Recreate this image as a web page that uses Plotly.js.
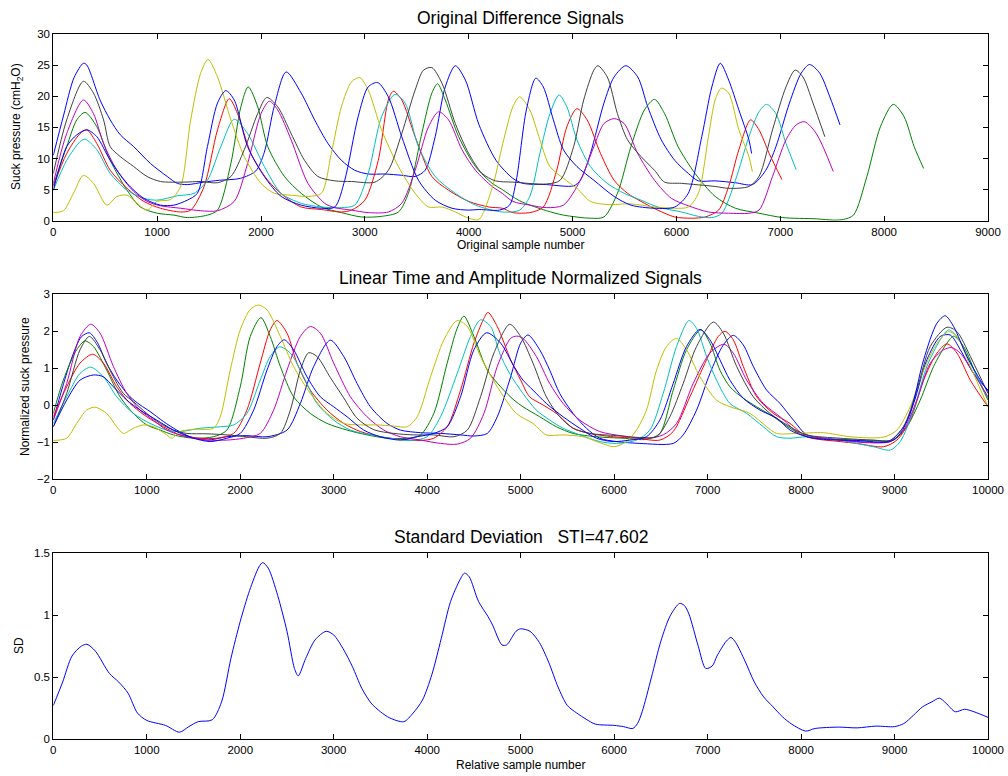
<!DOCTYPE html>
<html>
<head>
<meta charset="utf-8">
<script src="https://cdn.plot.ly/plotly-3.0.1.min.js"></script>
<style>html,body{margin:0;padding:0;background:#fff;}#chart{width:1008px;height:776px;}</style>
</head>
<body>
<div id="chart"></div>
<script>
// ---------- Panel 1: original difference signals (x = original sample number, y = cmH2O) ----------
const topA_x = [0,100,200,290,323,450,548,645,774,935,1097,1194,1290,1450,1600,1800,1950,2032,2129,2242,2387,2516,2645,2774,2903,3032,3194,3355,3484,3580,3677,3774,3871,3968,4097,4263,4425,4523,4750,5010,5075,5172,5302,5400,5513,5627,5724,5854,5984,6114,6211,6373,6568,6731,6860,6958,7088,7201,7282,7380,7477,7575];
const topA_y = [10.5,17,23,25.3,25,19.4,16.2,13.8,11.9,9.2,7.1,6.0,5.8,6.2,6.5,6.8,8,11,18.5,23.9,20.5,16.2,12.4,9.7,8.1,7.5,7.5,7.3,7.1,8.1,13.5,21.5,24.9,22.6,15.5,9.7,6.8,6.0,5.8,5.6,6.5,10.8,18.9,23.1,24.9,23.1,18.3,13,9.7,7.6,6.4,6.4,6.1,5.8,8.1,11.9,18.9,23.7,25.1,23.7,19.9,15.4];

const topD_x = [0,129,226,306,419,548,710,839,1000,1161,1290,1484,1581,1710,1806,1877,1968,2065,2226,2387,2581,2774,2968,3161,3323,3419,3548,3645,3700,3774,3903,4065,4226,4323,4490,4750,4912,5172,5302,5432,5562,5692,5789,5886,6016,6179,6373,6568,6795,7023,7347,7510,7607,7705,7834,7964,8088,8192,8289,8380];
const topD_y = [5.7,11.9,16.2,17.4,15.1,9.7,4.9,2.2,1.2,0.9,0.5,0.9,1.7,9.2,18.3,21.5,18.3,11.9,7.1,4.4,2.2,1.3,0.6,0.7,1.4,4.4,14,20.5,22,19.4,13.5,8.7,6.0,5.0,3.2,1.6,0.9,0.4,0.6,4.4,11.9,17.8,19.5,17.2,11.9,7.6,3.9,2.0,1.2,0.5,0.3,0.1,0.2,0.9,7.1,15.1,18.7,16.7,11.9,8.4];

const topE_x = [0,129,258,323,419,548,710,871,1032,1226,1323,1452,1581,1694,1774,1903,2065,2226,2387,2581,2774,2871,3000,3129,3226,3274,3355,3484,3645,3806,4000,4194,4323,4425,4588,4718,4847,4945,5042,5140,5269,5400,5529,5659,5821,5984,6146,6276,6406,6503,6601,6714,6795,6893,7016];
const topE_y = [5.5,10.8,14,14.6,12.4,8.1,5.2,3.1,2.0,1.4,1.7,5.5,14.6,19.6,17.2,10.8,6.5,3.9,2.2,1.8,1.4,1.7,3.3,9.7,19.4,20.8,19.4,13.5,7.1,4.9,3.1,2.2,2.0,1.3,1.3,2.2,8.1,15.1,18,16.2,10.8,6.5,4.4,3.1,1.7,0.6,0.4,0.6,1.7,5.5,11.4,16.2,14.6,10.8,6.6];

const topF_x = [0,129,258,306,419,548,710,871,1000,1194,1355,1484,1613,1742,1871,2032,2194,2387,2581,2774,2903,3032,3161,3290,3387,3516,3677,3871,4065,4323,4490,4588,4685,4782,4870,4945,5042,5172,5334,5497,5659,5821,6049,6211,6341,6438,6568,6698,6795,6867,6958,7055,7153];
const topF_y = [4.9,9.7,12.7,13.1,11.4,7.6,4.9,3.6,3.3,4.0,4.4,6.5,11.9,16.3,14,8.7,4.4,2.8,2.2,2.1,2.5,7.6,16.7,20.3,18.9,11.9,7.1,4.4,2.5,1.4,1.7,3.9,10.8,17.2,20.2,18.3,13,8.7,6.0,4.4,3.3,2.2,1.4,0.7,0.5,1.2,6.5,13.5,17.5,18.7,17.2,12.4,8.2];

const topC_x = [0,129,290,387,484,613,774,903,1032,1226,1419,1581,1742,1871,2000,2081,2161,2290,2452,2613,2710,2871,3032,3226,3355,3484,3613,3710,3806,3935,4065,4226,4323,4425,4588,4750,4912,5075,5205,5302,5400,5497,5627,5789,5951,6114,6308,6503,6698,6795,6925,7055,7153,7234,7347,7510];
const topC_y = [6.0,14,19.4,17.2,12.4,8.1,4.7,3.1,2.4,2.0,1.6,1.6,3.1,9.2,17.2,19.2,17.8,13,6.0,2.8,2.1,1.7,1.3,1.4,2.8,8.1,15.1,17.5,16.2,11.4,8.1,5.5,4.4,3.1,2.5,2.1,2.5,6.5,11.9,15.6,16.4,15.6,10.8,6.5,3.6,2.4,1.4,1.2,1.2,1.7,7.1,13,15.4,15.9,14,7.9];

const topH_x = [0,97,194,290,387,516,613,710,806,903,1000,1129,1226,1323,1419,1490,1581,1710,1839,2000,2129,2290,2452,2581,2677,2774,2871,2952,3032,3161,3323,3484,3613,3742,3871,4000,4097,4230,4328,4425,4490,4588,4685,4782,4912,5042,5172,5334,5562,5789,5984,6114,6211,6308,6373,6432,6503,6601,6698,6731];
const topH_y = [1.3,1.6,4.4,7.3,6.0,2.5,3.9,4.1,2.8,1.7,3.1,3.4,5.5,16.2,23.7,25.9,23.1,16.2,10.3,6.0,4.4,4.1,3.9,4.4,10.8,18.3,22.3,23,21,14.6,8.7,4.4,2.2,2.2,1.4,0.4,0.2,5.5,12.4,18.3,19.9,17.8,13,8.7,6.8,5.2,3.1,2.6,2.7,2.2,2.0,2.2,4.4,13.5,19.4,21.3,20.5,14.6,10.3,7.9];

const topB_x = [0,129,290,387,484,548,645,774,903,1032,1258,1419,1581,1710,1839,1968,2055,2161,2290,2419,2548,2710,2871,3097,3226,3355,3484,3565,3645,3742,3871,4000,4129,4258,4425,4750,4880,5010,5107,5205,5244,5334,5432,5529,5659,5789,5886,6049,6373,6503,6698,6795,6925,7055,7143,7218,7315,7429];
const topB_y = [7.6,16.2,22.4,20.5,16.2,11.9,10.3,8.7,7.1,6.3,6.2,6.3,6.1,7.1,11.4,17.2,19.8,18.3,14,9.7,7.1,6.4,6.3,6.2,8.1,14,21,24.2,24.6,22.1,15.6,10.8,7.6,6.4,6.2,5.9,6.5,11.9,19.4,24.2,24.9,23.1,17.2,13,10.3,8.1,6.2,6.0,5.5,5.2,5.5,7.1,14.6,21.5,24.2,23.1,18.9,13.5];

const topG_x = [0,129,226,323,419,548,710,871,1032,1161,1290,1387,1484,1581,1661,1742,1871,2032,2194,2387,2581,2710,2806,2935,3032,3123,3226,3355,3516,3677,3839,4000,4101,4295,4393,4458,4555,4646,4718,4815,4912,5042,5205,5400,5562,5789,5984,6114,6244,6341,6422,6503,6601,6698,6724];
const topG_y = [4.9,11.9,13.8,14.6,13.5,9.7,6.0,3.6,2.5,2.5,3.3,4.4,11.9,18.9,20.9,19.4,11.9,7.1,3.9,2.5,2.0,2.2,6.5,16.7,21.5,22.2,19.9,13.5,6.5,3.3,2.0,1.7,1.8,1.7,2.5,6.5,17.8,22.9,21.5,16.2,11.4,8.7,6.5,3.9,2.5,2.0,2.2,4.4,13.5,21.5,25.3,22.6,17.8,13,10.8];

// ---------- Panel 2: linear time and amplitude normalized signals (x = relative sample number) ----------
const midA_x = [0,100,200,300,386,471,571,679,821,929,1036,1179,1321,1464,1643,1857,2071,2286,2500,2643,2786,2964,3107,3250,3393,3571,3714,3929,4143,4357,4500,4643,4750,4893,5000,5079,5204,5311,5418,5561,5704,5846,6025,6275,6632,6739,6882,7025,7168,7275,7382,7489,7632,7775,7918,8061,8239,8418,8596,8775,8954,9096,9204,9346,9489,9596,9704,9846,10000];
const midA_y = [-0.4,0.5,1.3,1.85,1.96,1.7,1.13,0.68,0.23,0.01,-0.17,-0.44,-0.67,-0.85,-0.94,-0.85,-0.82,-0.85,-0.67,0.05,1.05,1.76,1.32,0.59,-0.04,-0.49,-0.67,-0.74,-0.76,-0.8,-0.83,-0.76,-0.31,0.77,1.68,1.9,1.5,0.95,0.32,-0.22,-0.62,-0.89,-0.98,-1.03,-1.03,-0.8,-0.13,0.86,1.63,1.89,1.63,1.05,0.41,0.05,-0.4,-0.8,-0.89,-0.94,-0.98,-1.0,-0.95,-0.58,0.05,1.23,1.86,1.9,1.5,0.86,0.41];

const midD_x = [0,107,250,339,429,571,714,857,1000,1143,1286,1500,1714,1857,2000,2107,2221,2321,2429,2571,2750,2929,3143,3357,3571,3786,3929,4071,4214,4321,4393,4500,4643,4786,4929,5025,5204,5382,5561,5811,6096,6346,6489,6632,6775,6929,7025,7132,7239,7382,7525,7704,7882,8061,8418,8775,8989,9132,9275,9418,9561,9632,9739,9882,10000];
const midD_y = [-0.22,0.68,1.5,1.74,1.59,0.95,0.23,-0.22,-0.53,-0.67,-0.8,-0.89,-0.85,-0.67,0.5,1.86,2.37,1.86,1.05,0.23,-0.22,-0.49,-0.67,-0.8,-0.89,-0.89,-0.8,-0.22,1.14,2.08,2.41,1.86,0.95,0.5,0.14,-0.04,-0.31,-0.58,-0.76,-0.85,-0.89,-0.92,-0.76,0.41,1.5,2.04,1.68,0.95,0.5,0.19,-0.04,-0.31,-0.62,-0.85,-0.92,-0.95,-0.94,-0.58,0.14,1.05,1.68,1.87,1.59,0.77,0.14];

const midE_x = [0,143,286,421,536,679,821,1000,1179,1357,1571,1750,1929,2071,2214,2321,2393,2500,2607,2750,2929,3107,3286,3500,3714,3929,4071,4214,4357,4500,4600,4650,4750,4893,5000,5096,5239,5382,5561,5739,5989,6239,6489,6632,6811,6989,7114,7186,7275,7382,7525,7704,7882,8061,8418,8596,8882,9025,9168,9311,9454,9561,9668,9811,10000];
const midE_y = [-0.31,0.5,1.14,1.38,1.14,0.5,0.05,-0.31,-0.58,-0.8,-0.89,-0.89,-0.76,-0.13,1.14,2.04,2.29,1.95,1.14,0.41,-0.13,-0.49,-0.71,-0.85,-0.92,-0.95,-0.89,-0.58,0.41,1.68,2.31,2.51,2.13,1.23,0.68,0.23,0.01,-0.22,-0.62,-0.76,-0.85,-0.89,-0.94,-0.71,0.23,1.23,1.86,2.0,1.77,1.05,0.23,-0.22,-0.49,-0.85,-0.98,-1.03,-1.12,-0.94,-0.4,0.68,1.41,1.66,1.41,0.68,-0.04];

const midF_x = [0,143,286,400,536,679,857,1036,1214,1357,1571,1786,1929,2071,2214,2321,2421,2536,2679,2821,3000,3179,3393,3607,3821,4000,4143,4321,4464,4571,4679,4775,4882,5025,5168,5311,5454,5632,5846,6025,6239,6382,6525,6668,6800,6882,6989,7096,7239,7418,7596,7739,7882,8061,8418,8775,8954,9061,9204,9346,9489,9579,9668,9811,10000];
const midF_y = [-0.49,0.23,0.86,1.03,0.77,0.23,-0.22,-0.49,-0.67,-0.71,-0.62,-0.58,-0.53,-0.22,0.68,1.32,1.58,1.41,0.77,0.05,-0.4,-0.67,-0.8,-0.89,-0.95,-0.85,-0.31,0.86,1.86,2.31,2.13,1.41,0.86,0.32,-0.13,-0.4,-0.62,-0.8,-0.98,-1.03,-0.94,-0.67,0.32,1.59,2.29,2.08,1.32,0.68,0.05,-0.22,-0.58,-0.85,-0.89,-0.85,-0.95,-1.12,-1.21,-0.98,-0.13,1.05,1.77,2.04,1.86,1.14,0.19];

const midC_x = [0,143,286,400,500,643,786,929,1071,1214,1429,1643,1857,2036,2214,2357,2500,2643,2750,2857,3000,3179,3357,3536,3714,3929,4143,4321,4464,4607,4750,4893,4960,5025,5168,5311,5454,5632,5846,6096,6346,6525,6668,6846,7025,7175,7275,7418,7596,7775,7954,8132,8418,8704,8954,9096,9239,9382,9525,9610,9704,9846,10000];
const midC_y = [-0.4,0.59,1.86,2.19,1.95,1.05,0.32,-0.13,-0.4,-0.67,-0.85,-0.94,-0.94,-0.89,-0.76,-0.13,0.95,1.86,2.13,1.95,1.14,0.23,-0.31,-0.67,-0.85,-0.94,-1.03,-1.05,-0.89,-0.22,1.05,1.81,1.87,1.81,1.32,0.59,0.05,-0.4,-0.71,-0.83,-0.89,-0.8,-0.49,0.59,1.41,1.65,1.41,0.68,0.05,-0.31,-0.71,-0.85,-0.94,-1.01,-0.98,-0.67,0.14,1.14,1.5,1.56,1.41,0.86,0.23];

const midH_x = [0,143,250,357,446,571,679,750,857,964,1071,1214,1268,1357,1500,1714,1786,1893,2000,2107,2196,2286,2429,2571,2750,2929,3107,3286,3464,3643,3786,3893,4036,4179,4321,4429,4571,4750,4954,5132,5275,5454,5668,5846,6000,6132,6239,6346,6454,6561,6668,6775,6918,7096,7239,7454,7632,7739,7954,8239,8525,8882,9025,9168,9311,9454,9579,9668,9811,10000];
const midH_y = [-0.95,-0.89,-0.49,-0.13,-0.05,-0.22,-0.58,-0.76,-0.62,-0.53,-0.58,-0.8,-0.89,-0.71,-0.65,-0.62,-0.31,0.95,2.04,2.59,2.71,2.58,1.86,1.05,0.32,-0.22,-0.49,-0.53,-0.53,-0.56,-0.58,-0.31,0.77,1.77,2.29,2.13,1.32,0.5,-0.22,-0.49,-0.8,-0.8,-0.85,-1.01,-1.12,-0.98,-0.67,-0.13,0.95,1.59,1.81,1.5,0.77,0.14,-0.04,-0.22,-0.58,-0.76,-0.76,-0.74,-0.85,-0.86,-0.67,-0.04,0.95,1.68,1.99,1.86,1.05,-0.04];

const midB_x = [0,143,286,386,500,643,750,857,1000,1143,1286,1429,1643,1857,2071,2286,2429,2536,2643,2732,2821,2964,3107,3250,3429,3643,3857,4071,4286,4429,4571,4714,4882,5000,5132,5275,5418,5561,5739,6025,6275,6454,6596,6739,6882,7061,7168,7311,7489,7668,7882,8061,8418,8775,8954,9096,9239,9382,9561,9668,9811,10000];
const midB_y = [-0.58,0.32,1.5,1.86,1.5,0.77,0.32,0.1,-0.22,-0.49,-0.67,-0.76,-0.77,-0.8,-0.85,-0.89,-0.76,-0.13,0.95,1.42,1.32,0.75,0.2,-0.35,-0.66,-0.76,-0.8,-0.8,-0.85,-0.67,0.23,1.41,2.19,1.86,1.14,0.23,-0.31,-0.62,-0.76,-0.82,-0.87,-0.85,-0.31,0.59,1.59,2.25,1.95,1.05,0.23,-0.22,-0.58,-0.8,-0.89,-0.94,-0.95,-0.58,0.41,1.59,2.11,1.99,1.32,0.32];

const midG_x = [0,143,286,429,536,643,786,929,1107,1286,1500,1679,1857,2000,2143,2286,2393,2471,2571,2714,2857,3000,3143,3321,3500,3714,3893,4071,4214,4357,4500,4636,4786,4929,5025,5132,5275,5454,5632,5811,5989,6168,6346,6489,6632,6775,6918,7025,7132,7239,7382,7561,7739,7882,8061,8239,8596,8954,9061,9168,9311,9454,9543,9632,9775,9918,10000];
const midG_y = [-0.58,0.14,0.68,0.82,0.77,0.5,0.14,-0.13,-0.4,-0.67,-0.89,-0.98,-0.89,-0.76,-0.13,0.95,1.59,1.77,1.5,0.77,0.23,-0.04,-0.31,-0.67,-0.85,-0.94,-0.85,-0.76,-0.58,0.23,1.5,1.96,1.68,1.05,0.68,0.41,0.05,-0.31,-0.62,-0.89,-0.98,-0.94,-0.85,-0.4,0.59,1.59,2.05,1.77,1.23,0.68,0.19,-0.13,-0.35,-0.67,-0.85,-0.92,-0.95,-0.98,-0.76,-0.22,1.23,2.22,2.42,2.13,1.32,0.68,0.37];

// ---------- Panel 3: standard deviation ----------
const sd_x = [0,100,200,300,360,450,600,700,800,900,1000,1200,1350,1450,1550,1700,1800,1900,2000,2100,2200,2240,2300,2400,2500,2580,2620,2700,2800,2920,3000,3100,3200,3300,3400,3500,3600,3750,3850,3950,4050,4150,4250,4350,4400,4450,4550,4650,4700,4800,4850,4950,5000,5100,5200,5300,5400,5500,5600,5700,5800,6000,6100,6200,6250,6300,6400,6500,6600,6700,6750,6800,6900,6980,7050,7100,7200,7250,7300,7400,7500,7600,7700,7800,7900,8050,8150,8400,8600,8800,9000,9100,9200,9300,9400,9480,9550,9650,9750,9850,10000];
const sd_y = [0.27,0.46,0.67,0.75,0.765,0.71,0.53,0.46,0.37,0.21,0.15,0.11,0.055,0.10,0.14,0.155,0.30,0.65,0.95,1.20,1.39,1.425,1.38,1.16,0.87,0.57,0.51,0.65,0.80,0.87,0.84,0.73,0.585,0.41,0.29,0.22,0.17,0.14,0.21,0.315,0.52,0.81,1.11,1.285,1.34,1.31,1.11,0.99,0.92,0.76,0.76,0.87,0.89,0.87,0.78,0.62,0.42,0.27,0.21,0.16,0.12,0.11,0.10,0.085,0.125,0.22,0.50,0.79,0.995,1.095,1.08,1.01,0.75,0.57,0.59,0.67,0.79,0.82,0.78,0.63,0.46,0.34,0.26,0.18,0.12,0.064,0.085,0.096,0.09,0.104,0.10,0.125,0.19,0.26,0.30,0.33,0.29,0.22,0.24,0.22,0.175];

// ---------- Text ----------
const titles = ["Original Difference Signals", "Linear Time and Amplitude Normalized Signals", "Standard Deviation&nbsp;&nbsp;&nbsp;STI=47.602"];
const yLabels = ["Suck pressure (cmH<sub>2</sub>O)", "Normalized suck pressure", "SD"];
const xLabels = ["Original sample number", "Relative sample number"];

// MATLAB default colour order: b g r c m y k, then b again
const colors = ["#0000FF", "#008000", "#FF0000", "#00BFBF", "#BF00BF", "#BFBF00", "#404040", "#0000FF"];

const topSeries = [[topA_x, topA_y], [topD_x, topD_y], [topE_x, topE_y], [topF_x, topF_y], [topC_x, topC_y], [topH_x, topH_y], [topB_x, topB_y], [topG_x, topG_y]];
const midSeries = [[midA_x, midA_y], [midD_x, midD_y], [midE_x, midE_y], [midF_x, midF_y], [midC_x, midC_y], [midH_x, midH_y], [midB_x, midB_y], [midG_x, midG_y]];

const traces = [];
topSeries.forEach((s, i) => traces.push({x: s[0], y: s[1], xaxis: 'x', yaxis: 'y', type: 'scatter', mode: 'lines',
  line: {color: colors[i], width: 1, shape: 'spline', smoothing: 0.8}, hoverinfo: 'skip', showlegend: false}));
midSeries.forEach((s, i) => traces.push({x: s[0], y: s[1], xaxis: 'x2', yaxis: 'y2', type: 'scatter', mode: 'lines',
  line: {color: colors[i], width: 1, shape: 'spline', smoothing: 0.8}, hoverinfo: 'skip', showlegend: false}));
traces.push({x: sd_x, y: sd_y, xaxis: 'x3', yaxis: 'y3', type: 'scatter', mode: 'lines',
  line: {color: '#0000FF', width: 1, shape: 'spline', smoothing: 0.8}, hoverinfo: 'skip', showlegend: false});

const W = 1008, H = 776;
const FONT = 'Liberation Sans, Arial, Helvetica, sans-serif';
const px2x = p => p / W;
const px2y = p => 1 - p / H;
const xdom = [px2x(53.3), px2x(988)];

function axisBase(extra) {
  return Object.assign({
    showline: true, linecolor: '#000', linewidth: 1, mirror: 'allticks',
    ticks: 'inside', ticklen: 5, tickwidth: 1, tickcolor: '#000',
    showgrid: false, zeroline: false,
    tickfont: {family: FONT, size: 11.5, color: '#000'}
  }, extra);
}

const layout = {
  width: W, height: H,
  margin: {l: 0, r: 0, t: 0, b: 0},
  paper_bgcolor: '#fff', plot_bgcolor: '#fff',
  showlegend: false,
  font: {family: FONT, color: '#000'},
  xaxis:  axisBase({domain: xdom, anchor: 'y',  range: [0, 9000],  dtick: 1000, tick0: 0, tickformat: 'd'}),
  yaxis:  axisBase({domain: [px2y(220.7), px2y(34)],  anchor: 'x',  range: [0, 30], dtick: 5, tick0: 0}),
  xaxis2: axisBase({domain: xdom, anchor: 'y2', range: [0, 10000], dtick: 1000, tick0: 0, tickformat: 'd'}),
  yaxis2: axisBase({domain: [px2y(479.3), px2y(294.3)], anchor: 'x2', range: [-2, 3], dtick: 1, tick0: 0}),
  xaxis3: axisBase({domain: xdom, anchor: 'y3', range: [0, 10000], dtick: 1000, tick0: 0, tickformat: 'd'}),
  yaxis3: axisBase({domain: [px2y(739), px2y(553.3)], anchor: 'x3', range: [0, 1.5], dtick: 0.5, tick0: 0}),
  annotations: [
    {text: titles[0], x: px2x(520.5), y: px2y(18),  xref: 'paper', yref: 'paper', showarrow: false, xanchor: 'center', yanchor: 'middle', font: {size: 17.5, family: FONT}},
    {text: titles[1], x: px2x(520.5), y: px2y(278), xref: 'paper', yref: 'paper', showarrow: false, xanchor: 'center', yanchor: 'middle', font: {size: 17.5, family: FONT}},
    {text: titles[2], x: px2x(520.5), y: px2y(537), xref: 'paper', yref: 'paper', showarrow: false, xanchor: 'center', yanchor: 'middle', font: {size: 17.5, family: FONT}},
    {text: yLabels[0], x: px2x(17), y: px2y(127), xref: 'paper', yref: 'paper', showarrow: false, textangle: -90, xanchor: 'center', yanchor: 'middle', font: {size: 12, family: FONT}},
    {text: yLabels[1], x: px2x(25), y: px2y(387), xref: 'paper', yref: 'paper', showarrow: false, textangle: -90, xanchor: 'center', yanchor: 'middle', font: {size: 12, family: FONT}},
    {text: yLabels[2], x: px2x(19), y: px2y(646), xref: 'paper', yref: 'paper', showarrow: false, textangle: -90, xanchor: 'center', yanchor: 'middle', font: {size: 12, family: FONT}},
    {text: xLabels[0], x: px2x(520.5), y: px2y(245), xref: 'paper', yref: 'paper', showarrow: false, xanchor: 'center', yanchor: 'middle', font: {size: 12, family: FONT}},
    {text: xLabels[1], x: px2x(520.5), y: px2y(765), xref: 'paper', yref: 'paper', showarrow: false, xanchor: 'center', yanchor: 'middle', font: {size: 12, family: FONT}}
  ]
};

Plotly.newPlot('chart', traces, layout, {staticPlot: true, displayModeBar: false});
</script>
</body>
</html>
